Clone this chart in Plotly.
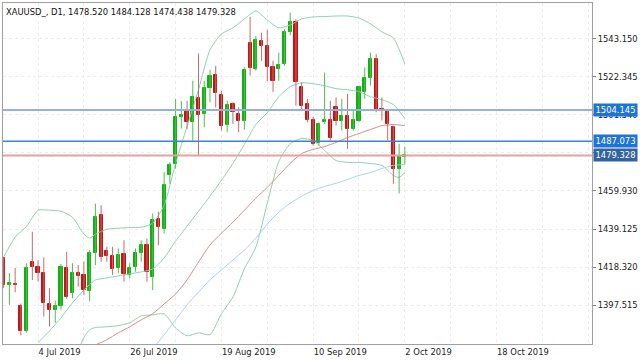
import plotly.graph_objects as go

# ---------------- data ----------------
opens = [1423.2, 1408.4, 1409.2, 1396.8, 1383.5, 1421.2, 1418.2, 1414.9, 1398.2, 1394.9,
         1396.8, 1417.6, 1404.0, 1415.3, 1414.0, 1405.5, 1425.8, 1446.6, 1427.0, 1424.3,
         1417.6, 1425.3, 1414.0, 1418.5, 1426.2, 1430.3, 1412.8, 1444.8, 1439.4, 1468.4,
         1474.4, 1500.5, 1503.8, 1497.8, 1510.7, 1502.0, 1516.2, 1523.2, 1512.3, 1496.2,
         1507.5, 1502.0, 1498.4, 1541.0, 1526.5, 1541.9, 1539.2, 1527.4, 1526.5, 1529.5,
         1547.0, 1552.4, 1516.9, 1507.4, 1498.7, 1486.0, 1497.4, 1498.7, 1505.6, 1498.4,
         1501.1, 1493.9, 1498.4, 1513.8, 1521.9, 1531.9, 1504.7, 1503.8, 1494.7, 1472.1,
         1478.520]
highs = [1423.8, 1415.0, 1417.8, 1398.4, 1420.4, 1437.6, 1422.0, 1423.6, 1406.8, 1400.0,
         1420.0, 1426.7, 1420.4, 1419.4, 1421.3, 1427.6, 1453.0, 1452.1, 1429.4, 1429.4,
         1428.5, 1433.0, 1420.4, 1428.5, 1433.0, 1433.9, 1447.6, 1448.5, 1470.2, 1475.6,
         1510.2, 1509.0, 1509.2, 1520.1, 1535.0, 1520.1, 1526.2, 1528.3, 1514.7, 1509.2,
         1508.3, 1505.6, 1527.4, 1555.0, 1544.6, 1546.4, 1548.0, 1531.0, 1535.5, 1548.3,
         1557.3, 1553.7, 1519.2, 1510.2, 1500.5, 1497.4, 1524.6, 1509.2, 1511.0, 1510.2,
         1512.9, 1504.7, 1517.4, 1527.4, 1535.5, 1534.7, 1511.0, 1504.7, 1495.6, 1485.7,
         1484.128]
lows = [1406.8, 1397.7, 1404.6, 1381.0, 1382.5, 1411.3, 1410.5, 1391.3, 1385.9, 1387.9,
        1395.0, 1401.0, 1401.3, 1407.6, 1403.0, 1399.5, 1419.4, 1421.2, 1421.2, 1414.0,
        1415.0, 1410.4, 1412.2, 1415.8, 1421.2, 1410.4, 1405.8, 1430.3, 1436.7, 1463.9,
        1472.1, 1494.0, 1493.8, 1487.4, 1479.0, 1494.7, 1508.3, 1505.5, 1492.9, 1492.0,
        1496.6, 1492.0, 1493.4, 1523.0, 1525.6, 1531.0, 1520.0, 1514.0, 1520.1, 1528.3,
        1545.0, 1506.5, 1503.8, 1497.4, 1484.7, 1484.7, 1496.6, 1487.5, 1495.6, 1492.9,
        1482.9, 1492.9, 1497.4, 1510.2, 1517.4, 1502.9, 1498.4, 1487.5, 1463.9, 1458.5,
        1474.438]
closes = [1408.5, 1409.7, 1408.6, 1383.5, 1417.6, 1418.2, 1414.9, 1398.6, 1394.9, 1396.8,
          1418.2, 1402.2, 1414.9, 1413.5, 1405.8, 1425.8, 1445.7, 1424.0, 1424.3, 1417.1,
          1424.9, 1414.4, 1417.6, 1426.2, 1430.3, 1415.8, 1443.9, 1440.3, 1463.0, 1473.9,
          1500.5, 1501.2, 1497.4, 1511.0, 1501.4, 1515.9, 1522.9, 1513.4, 1495.6, 1506.9,
          1502.9, 1498.0, 1526.1, 1527.0, 1542.4, 1539.2, 1527.4, 1520.1, 1528.8, 1547.0,
          1552.4, 1519.2, 1506.5, 1498.7, 1485.7, 1496.6, 1498.7, 1488.7, 1498.0, 1501.1,
          1493.9, 1498.7, 1516.5, 1521.9, 1531.9, 1503.8, 1503.8, 1496.6, 1472.1, 1478.4,
          1479.328]

# Bollinger upper band (bar index, value)
bb_upper_bars = [0, 2, 4, 6, 8, 10, 12, 14, 15, 16, 18, 20, 22, 24, 26, 28, 30, 32, 34, 36,
                 38, 40, 42, 44, 46, 48, 50, 52, 54, 56, 58, 60, 62, 64, 66, 68, 70]
bb_upper_vals = [1423.8, 1434.7, 1440.6, 1449.4, 1449.4, 1448.8, 1445.6, 1436.3, 1434.1, 1436.3,
                 1439.0, 1439.6, 1439.9, 1440.1, 1442.3, 1452.1, 1475.0, 1495.1, 1515.2, 1537.0,
                 1545.7, 1549.0, 1553.9, 1558.2, 1553.3, 1549.0, 1550.6, 1553.9, 1555.0, 1555.2,
                 1555.5, 1555.5, 1554.4, 1551.2, 1546.8, 1543.5, 1529.4]
# Bollinger middle band
bb_mid_bars = [6, 8, 10, 12, 14, 16, 18, 20, 22, 24, 26, 28, 30, 32, 34, 36, 38, 40, 42, 44,
               46, 48, 50, 52, 54, 56, 58, 60, 62, 64, 66, 68, 70]
bb_mid_vals = [1377.0, 1383.5, 1390.6, 1398.8, 1405.8, 1411.3, 1412.4, 1413.5, 1414.6, 1415.7,
               1417.3, 1423.3, 1432.5, 1440.7, 1448.8, 1457.0, 1465.7, 1475.0, 1485.3, 1496.2,
               1502.7, 1511.4, 1516.9, 1519.0, 1518.5, 1517.4, 1515.8, 1515.2, 1514.2, 1511.4,
               1509.8, 1507.1, 1499.5]
# Bollinger lower band
bb_lower_bars = [13, 14, 15, 16, 18, 20, 22, 24, 26, 28, 30, 32, 34, 36, 38, 40, 42, 44, 46,
                 48, 50, 52, 54, 56, 58, 60, 62, 64, 66, 68, 69, 70]
bb_lower_vals = [1372.0, 1380.0, 1384.0, 1385.3, 1385.7, 1386.3, 1387.9, 1391.7, 1392.2, 1392.8,
                 1385.1, 1380.8, 1382.4, 1381.4, 1392.8, 1402.0, 1417.3, 1429.2, 1453.2, 1476.0,
                 1485.8, 1488.6, 1487.5, 1482.0, 1476.5, 1475.5, 1475.5, 1474.9, 1473.9, 1468.4,
                 1467.3, 1470.0]
# red moving average
ma_red_bars = [16, 18, 20, 22, 24, 26, 28, 30, 32, 34, 36, 38, 40, 42, 44, 46, 48, 50, 52, 54,
               56, 58, 60, 62, 64, 66, 68, 70]
ma_red_vals = [1375.8, 1378.6, 1382.4, 1385.7, 1389.5, 1392.8, 1398.2, 1403.6, 1411.3, 1421.1,
               1430.4, 1436.9, 1442.8, 1449.4, 1455.9, 1461.9, 1468.4, 1475.0, 1480.4, 1482.6,
               1484.2, 1486.4, 1489.1, 1491.3, 1493.5, 1495.6, 1496.2, 1495.6]
# light blue moving average
ma_blue_bars = [26, 28, 30, 32, 34, 36, 38, 40, 42, 44, 46, 48, 50, 52, 54, 56, 58, 60, 62, 64,
                66, 68, 70]
ma_blue_vals = [1373.7, 1381.3, 1389.5, 1397.7, 1404.7, 1411.3, 1416.8, 1422.2, 1427.6, 1434.1,
                1441.8, 1448.3, 1453.2, 1457.0, 1460.2, 1462.4, 1464.1, 1466.2, 1468.4, 1470.0,
                1472.2, 1473.9, 1474.4]

x_tick_bars = [6, 22, 38, 54, 70, 86]
x_tick_labels = ["4 Jul 2019", "26 Jul 2019", "19 Aug 2019", "10 Sep 2019", "2 Oct 2019", "18 Oct 2019"]
y_tick_vals = [1397.515, 1418.320, 1439.125, 1459.930, 1480.735, 1501.540, 1522.345, 1543.150]
y_tick_labels = ["1397.515", "1418.320", "1439.125", "1459.930", "1480.735", "1501.540", "1522.345", "1543.150"]

levels = [1504.145, 1487.073, 1479.328]
level_labels = ["1504.145", "1487.073", "1479.328"]

title_text = "XAUUSD_, D1, 1478.520 1484.128 1474.438 1479.328"

# ---------------- styles ----------------
GREEN = "#12b012"
RED = "#c41414"
GREEN_WICK = "#4cc04c"
RED_WICK = "#c86a6a"
BB_COLOR = "#8bd3b0"
MA_RED = "#d98c8c"
MA_BLUE = "#a9d3ea"
level_line_colors = ["#8fb3dc", "#3f82d2", "#e3a2a2"]
level_line_widths = [2.2, 1.3, 2.0]
level_box_colors = ["#1d74d6", "#1d74d6", "#31649f"]
FONT = "DejaVu Sans"

n = len(opens)
idx = list(range(n))
up = [i for i in idx if closes[i] >= opens[i]]
dn = [i for i in idx if closes[i] < opens[i]]


def wick_xy(ids):
    xs, ys = [], []
    for i in ids:
        xs += [i, i, None]
        ys += [highs[i], lows[i], None]
    return xs, ys


fig = go.Figure()

# indicator lines
for bx, bv, col in [(bb_upper_bars, bb_upper_vals, BB_COLOR),
                    (bb_mid_bars, bb_mid_vals, BB_COLOR),
                    (bb_lower_bars, bb_lower_vals, BB_COLOR),
                    (ma_red_bars, ma_red_vals, MA_RED),
                    (ma_blue_bars, ma_blue_vals, MA_BLUE)]:
    fig.add_trace(go.Scatter(x=bx, y=bv, mode="lines", line=dict(color=col, width=1, shape="spline", smoothing=0.6),
                             hoverinfo="skip", showlegend=False))

# wicks
for ids, col in [(up, GREEN_WICK), (dn, RED_WICK)]:
    wx, wy = wick_xy(ids)
    fig.add_trace(go.Scatter(x=wx, y=wy, mode="lines", line=dict(color=col, width=1),
                             hoverinfo="skip", showlegend=False))

# bodies
for ids, col in [(up, GREEN), (dn, RED)]:
    fig.add_trace(go.Bar(
        x=ids,
        y=[abs(closes[i] - opens[i]) for i in ids],
        base=[min(closes[i], opens[i]) for i in ids],
        width=0.56,
        marker=dict(color=col, line=dict(color=col, width=1)),
        hoverinfo="skip", showlegend=False))

# horizontal level lines
for lv, lc, lw in zip(levels, level_line_colors, level_line_widths):
    fig.add_shape(type="line", xref="paper", x0=0, x1=1, yref="y", y0=lv, y1=lv,
                  line=dict(color=lc, width=lw), layer="above")

annotations = []
for lv, lt, bc in zip(levels, level_labels, level_box_colors):
    annotations.append(dict(xref="paper", x=1, xanchor="left", xshift=1,
                            yref="y", y=lv, yanchor="middle",
                            text=lt, showarrow=False, bgcolor=bc, borderpad=1,
                            width=41, height=10, align="center",
                            font=dict(family=FONT, size=8.4, color="white")))
annotations.append(dict(xref="paper", x=0, xanchor="left", xshift=1,
                        yref="paper", y=1, yanchor="top", yshift=-2,
                        text=title_text, showarrow=False,
                        font=dict(family=FONT, size=8.4, color="#111111")))

grid_bars = list(range(6, 103, 8))

fig.update_layout(
    width=640, height=360,
    margin=dict(l=2, r=47, t=2, b=16),
    paper_bgcolor="white", plot_bgcolor="white",
    barmode="overlay", bargap=0,
    font=dict(family=FONT, size=8.4, color="#222222"),
    annotations=annotations,
    showlegend=False,
    xaxis=dict(range=[-0.12, 102.66], tickmode="array", tickvals=x_tick_bars, ticktext=x_tick_labels,
               ticklabelposition="outside right", ticks="",
               showgrid=True, gridcolor="#ececec", griddash="dot", gridwidth=1,
               minor=dict(tickmode="array", tickvals=grid_bars, showgrid=True,
                          gridcolor="#ececec", griddash="dot", gridwidth=1),
               showline=True, mirror=True, linecolor="#a0a0a0", linewidth=1,
               zeroline=False, fixedrange=True),
    yaxis=dict(range=[1376.3, 1562.6], side="right", tickmode="array",
               tickvals=y_tick_vals, ticktext=y_tick_labels,
               ticks="outside", ticklen=3, tickcolor="#808080",
               showgrid=True, gridcolor="#ececec", griddash="dot", gridwidth=1,
               showline=True, mirror=True, linecolor="#a0a0a0", linewidth=1,
               zeroline=False, fixedrange=True),
)

fig.write_html("out.html", config={"displayModeBar": False},
               post_script="document.body.style.margin='0';document.body.style.padding='0';")
